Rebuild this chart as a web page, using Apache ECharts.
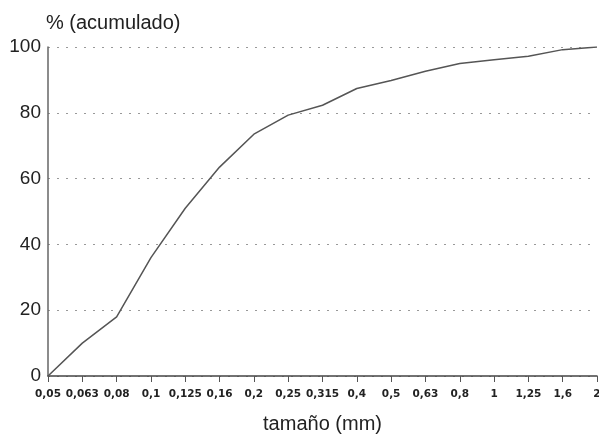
<!DOCTYPE html>
<html>
<head>
<meta charset="utf-8">
<script src="https://cdn.jsdelivr.net/npm/echarts@6/dist/echarts.min.js"></script>
<style>html,body{margin:0;padding:0;background:#fff;overflow:hidden}#c{width:599px;height:435px}</style>
</head>
<body>
<div id="c"></div>
<script>
const categories = ['0,05','0,063','0,08','0,1','0,125','0,16','0,2','0,25','0,315','0,4','0,5','0,63','0,8','1','1,25','1,6','2'];
const acumulado = [0, 10, 18, 36, 51, 63.5, 73.5, 79.3, 82.3, 87.4, 89.8, 92.6, 95, 96.1, 97.2, 99.2, 100];
const yTicks = [0, 20, 40, 60, 80, 100];

const chart = echarts.init(document.getElementById('c'), null, {renderer: 'canvas', width: 599, height: 435});
chart.setOption({
  animation: false,
  backgroundColor: '#fff',
  grid: {left: 48, right: 2, top: 47, bottom: 59, containLabel: false, outerBoundsMode: 'none'},
  xAxis: {
    type: 'category',
    data: categories,
    boundaryGap: false,
    name: 'tamaño (mm)',
    nameLocation: 'middle',
    nameGap: 38,
    nameTextStyle: {fontFamily: 'Liberation Sans', fontSize: 20, color: '#222'},
    axisLine: {lineStyle: {color: '#444', width: 1.5}},
    axisTick: {show: true, length: 6, lineStyle: {color: '#555', width: 1}},
    axisLabel: {interval: 0, margin: 13, fontFamily: 'DejaVu Sans', fontWeight: 'bold', fontSize: 10.5, color: '#222', hideOverlap: false},
    splitLine: {show: false}
  },
  yAxis: {
    type: 'value',
    min: yTicks[0],
    max: yTicks[yTicks.length - 1],
    interval: 20,
    name: '% (acumulado)',
    nameLocation: 'end',
    nameGap: 14,
    nameTextStyle: {fontFamily: 'Liberation Sans', fontSize: 20, color: '#222', align: 'left', padding: [0, 0, 0, -2]},
    axisLine: {show: true, lineStyle: {color: '#666', width: 1.5}},
    axisTick: {show: false},
    axisLabel: {margin: 7, fontFamily: 'Liberation Sans', fontSize: 19, color: '#222'},
    splitLine: {show: true, lineStyle: {color: '#999', type: [2, 7], width: 1}}
  },
  series: [{
    type: 'line',
    data: acumulado,
    symbol: 'none',
    smooth: false,
    lineStyle: {color: '#555', width: 1.5}
  }]
});
</script>
</body>
</html>
